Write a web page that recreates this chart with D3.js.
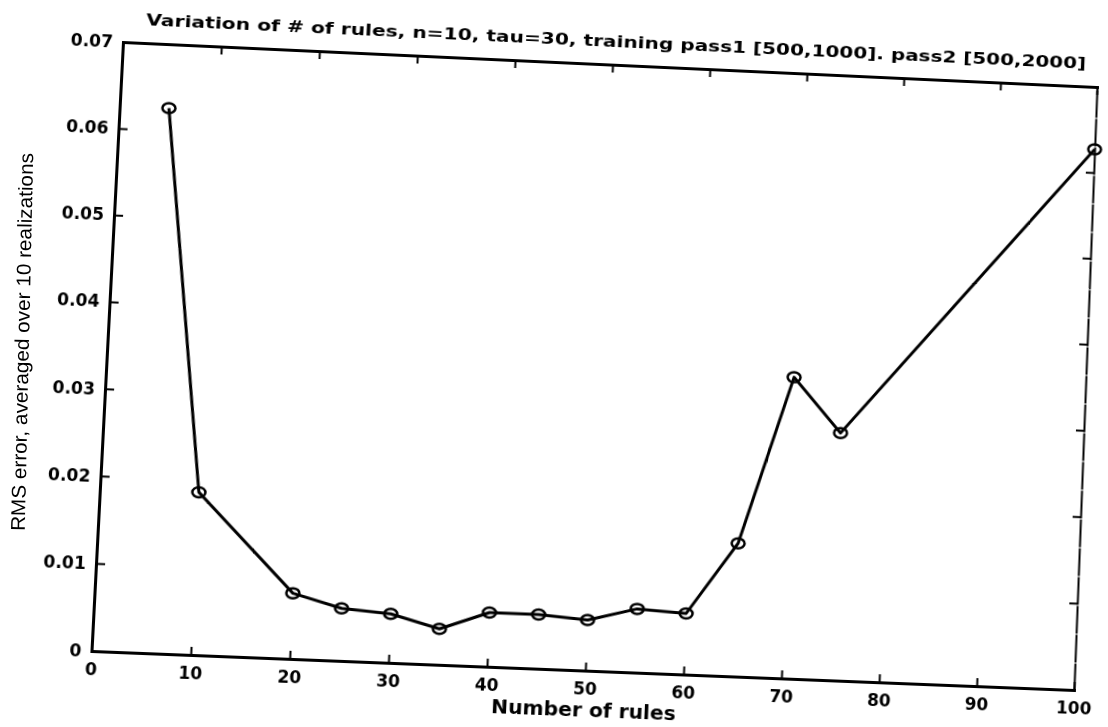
<!DOCTYPE html>
<html>
<head>
<meta charset="utf-8">
<script src="https://cdn.jsdelivr.net/npm/d3@7"></script>
<style>
    html, body { margin: 0; padding: 0; background: #fff; overflow: hidden; }
    svg { position: absolute; left: 0; top: 0; overflow: visible; }
    #chart { transform-origin: 0 0; }
    .tick text { font-family: "DejaVu Sans", sans-serif; font-weight: bold; font-size: 17px; fill: #000; }
</style>
</head>
<body>
<svg id="chart"></svg>
<svg id="overlay"></svg>
<script>
const rules = [5, 10, 20, 25, 30, 35, 40, 45, 50, 55, 60, 65, 70, 75, 100];
const rmsError = [0.0626, 0.0186, 0.0075, 0.0060, 0.0056, 0.0041, 0.0062, 0.0062, 0.0058, 0.0073, 0.0070, 0.0153, 0.0347, 0.0285, 0.0627];
const xTicks = [0, 10, 20, 30, 40, 50, 60, 70, 80, 90, 100];
const yTicks = [0, 0.01, 0.02, 0.03, 0.04, 0.05, 0.06, 0.07];
const titleText = "Variation of # of rules, n=10, tau=30, training pass1 [500,1000]. pass2 [500,2000]";
const xLabel = "Number of rules";
const yLabel = "RMS error, averaged over 10 realizations";

const width = 1108, height = 727;
const margin = {top: 50, left: 100};
const plotW = 980, plotH = 610;

// where the plot box corners ended up in the scan: TL, TR, BR, BL
const corners = [[123, 42], [1097, 87], [1074, 690], [91.5, 651]];

// unit square -> quad (Heckbert), then flat plot rect -> quad as a css matrix3d
function squareToQuad(q) {
    const [[x0, y0], [x1, y1], [x2, y2], [x3, y3]] = q;
    const dx1 = x1 - x2, dx2 = x3 - x2, dx3 = x0 - x1 + x2 - x3;
    const dy1 = y1 - y2, dy2 = y3 - y2, dy3 = y0 - y1 + y2 - y3;
    const det = dx1 * dy2 - dx2 * dy1;
    const g = (dx3 * dy2 - dx2 * dy3) / det;
    const h = (dx1 * dy3 - dx3 * dy1) / det;
    return {
        a: x1 - x0 + g * x1, b: x3 - x0 + h * x3, c: x0,
        d: y1 - y0 + g * y1, e: y3 - y0 + h * y3, f: y0, g, h
    };
}

function warpMatrix(L, T, W, H, q) {
    const m = squareToQuad(q);
    const A = m.a / W, B = m.b / H, C = m.c - m.a * L / W - m.b * T / H;
    const D = m.d / W, E = m.e / H, F = m.f - m.d * L / W - m.e * T / H;
    const G = m.g / W, Hh = m.h / H, I = 1 - m.g * L / W - m.h * T / H;
    return `matrix3d(${[A, D, 0, G, B, E, 0, Hh, 0, 0, 1, 0, C, F, 0, I].join(",")})`;
}

const svg = d3.select("#chart")
    .attr("width", width)
    .attr("height", height)
    .style("transform", warpMatrix(margin.left, margin.top, plotW, plotH, corners));

const xScale = d3.scaleLinear().domain([0, 100]).range([margin.left, margin.left + plotW]);
const yScale = d3.scaleLinear().domain([0, 0.07]).range([margin.top + plotH, margin.top]);

const bottomAxis = svg.append("g")
    .attr("transform", `translate(0, ${margin.top + plotH})`)
    .call(d3.axisBottom(xScale).tickValues(xTicks).tickSizeInner(-8).tickSizeOuter(0)
        .tickPadding(12).tickFormat(d3.format("d")));

const leftAxis = svg.append("g")
    .attr("transform", `translate(${margin.left}, 0)`)
    .call(d3.axisLeft(yScale).tickValues(yTicks).tickSizeInner(-9).tickSizeOuter(0)
        .tickPadding(10).tickFormat(d => d === 0 ? "0" : d.toFixed(2)));

const topAxis = svg.append("g")
    .attr("transform", `translate(0, ${margin.top})`)
    .call(d3.axisTop(xScale).tickValues(xTicks).tickSizeInner(-8).tickSizeOuter(0).tickFormat(""));

const rightAxis = svg.append("g")
    .attr("transform", `translate(${margin.left + plotW}, 0)`)
    .call(d3.axisRight(yScale).tickValues(yTicks).tickSizeInner(-8).tickSizeOuter(0).tickFormat(""));

svg.selectAll(".domain")
    .attr("stroke", "#000")
    .attr("stroke-width", 3)
    .attr("stroke-linecap", "square");
rightAxis.select(".domain").attr("stroke-width", 2).attr("stroke-dasharray", "26 3");
svg.selectAll(".tick line").attr("stroke", "#000").attr("stroke-width", 2);

const points = rules.map((r, i) => ({r: r, v: rmsError[i]}));

svg.append("path")
    .datum(points)
    .attr("fill", "none")
    .attr("stroke", "#000")
    .attr("stroke-width", 3)
    .attr("stroke-linejoin", "round")
    .attr("d", d3.line().x(d => xScale(d.r)).y(d => yScale(d.v)));

svg.append("g")
    .selectAll("ellipse")
    .data(points)
    .join("ellipse")
    .attr("cx", d => xScale(d.r))
    .attr("cy", d => yScale(d.v))
    .attr("rx", 6.5)
    .attr("ry", 5)
    .attr("fill", "none")
    .attr("stroke", "#000")
    .attr("stroke-width", 2.5);

svg.append("text")
    .attr("x", 595)
    .attr("y", margin.top - 18)
    .attr("text-anchor", "middle")
    .attr("textLength", 946)
    .attr("lengthAdjust", "spacingAndGlyphs")
    .style("font-family", "'DejaVu Sans', sans-serif")
    .style("font-weight", "bold")
    .style("font-size", "16px")
    .text(titleText);

svg.append("text")
    .attr("x", margin.left + plotW / 2)
    .attr("y", margin.top + plotH + 46)
    .attr("text-anchor", "middle")
    .attr("textLength", 184)
    .attr("lengthAdjust", "spacingAndGlyphs")
    .style("font-family", "'DejaVu Sans', sans-serif")
    .style("font-weight", "bold")
    .style("font-size", "19px")
    .text(xLabel);

// the y label in the scan is barely tilted, keep it out of the warp
d3.select("#overlay")
    .attr("width", width)
    .attr("height", height)
    .append("text")
    .attr("transform", "translate(22, 342) rotate(-88.7)")
    .attr("text-anchor", "middle")
    .attr("dy", "0.35em")
    .attr("textLength", 378)
    .attr("lengthAdjust", "spacingAndGlyphs")
    .style("font-family", "'Liberation Sans Narrow', 'Liberation Sans', sans-serif")
    .style("font-size", "20px")
    .text(yLabel);
</script>
</body>
</html>
